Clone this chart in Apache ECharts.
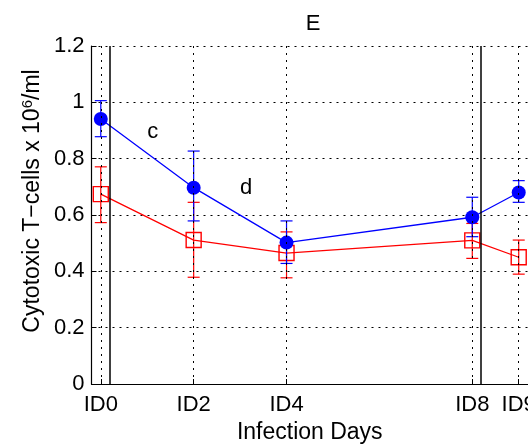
<!DOCTYPE html>
<html>
<head>
<meta charset="utf-8">
<script src="https://cdn.jsdelivr.net/npm/echarts@6/dist/echarts.min.js"></script>
<style>
  html, body { margin: 0; padding: 0; background: #fff; }
  #chart { width: 528px; height: 444px; }
</style>
</head>
<body>
<div id="chart"></div>
<script>
// infection days on the x axis
var days = [0, 2, 4, 8, 9]
var dayLabels = ['ID0', 'ID2', 'ID4', 'ID8', 'ID9']

// blue: filled circles
var blueMean = [0.941, 0.697, 0.502, 0.592, 0.68]
var blueLow = [0.878, 0.579, 0.428, 0.523, 0.645]
var blueHigh = [1.006, 0.827, 0.579, 0.663, 0.722]

// red: open squares
var redMean = [0.674, 0.511, 0.465, 0.51, 0.45]
var redLow = [0.573, 0.379, 0.377, 0.446, 0.39]
var redHigh = [0.771, 0.645, 0.54, 0.57, 0.511]

var yTicks = [0, 0.2, 0.4, 0.6, 0.8, 1, 1.2]
var solidDays = [0.2, 8.18]
var notes = [
  { text: 'c', day: 1.12, value: 0.896 },
  { text: 'd', day: 3.13, value: 0.696 }
]

var FONT = '"Liberation Sans", Arial, sans-serif'

function pairs(ys) {
  return days.map(function (d, i) { return [d, ys[i]] })
}
function bars(low, high) {
  return days.map(function (d, i) { return [d, low[i], high[i]] })
}

function errorBar(color) {
  return function (params, api) {
    var x = api.value(0)
    var lo = api.coord([x, api.value(1)])
    var hi = api.coord([x, api.value(2)])
    var w = 6
    var style = { stroke: color, lineWidth: 1.2 }
    return {
      type: 'group',
      children: [
        { type: 'line', shape: { x1: lo[0], y1: lo[1], x2: hi[0], y2: hi[1] }, style: style },
        { type: 'line', shape: { x1: lo[0] - w, y1: lo[1], x2: lo[0] + w, y2: lo[1] }, style: style },
        { type: 'line', shape: { x1: hi[0] - w, y1: hi[1], x2: hi[0] + w, y2: hi[1] }, style: style }
      ]
    }
  }
}

var chart = echarts.init(document.getElementById('chart'), null, { renderer: 'canvas' })

chart.setOption({
  backgroundColor: '#fff',
  animation: false,
  textStyle: { fontFamily: FONT },
  title: {
    text: 'E',
    left: 308,
    top: 8,
    textAlign: 'center',
    textStyle: { fontFamily: FONT, fontSize: 22, fontWeight: 'normal', color: '#000' }
  },
  grid: { left: 91.5, right: 0, top: 46, bottom: 60, containLabel: false, outerBoundsMode: 'none' },
  xAxis: {
    type: 'value',
    min: -0.2,
    max: 9.2,
    name: 'Infection Days',
    nameLocation: 'middle',
    nameGap: 36,
    nameTextStyle: { fontFamily: FONT, fontSize: 23, color: '#000' },
    axisLine: { show: true, onZero: false, lineStyle: { color: '#000', width: 1.2 } },
    axisTick: { show: true, inside: true, length: 5, customValues: days, lineStyle: { color: '#000' } },
    axisLabel: {
      customValues: days,
      margin: 10,
      fontFamily: FONT,
      fontSize: 22,
      color: '#000',
      hideOverlap: false,
      formatter: function (v) {
        var i = days.indexOf(Math.round(v))
        return i >= 0 ? dayLabels[i] : ''
      }
    },
    splitLine: { show: false }
  },
  yAxis: {
    type: 'value',
    min: 0,
    max: 1.2,
    interval: 0.2,
    axisLine: { show: true, onZero: false, lineStyle: { color: '#000', width: 1.2 } },
    axisTick: { show: true, inside: true, length: 5, lineStyle: { color: '#000' } },
    axisLabel: {
      margin: 7,
      fontFamily: FONT,
      fontSize: 22,
      color: '#000',
      formatter: function (v) {
        var t = yTicks.filter(function (k) { return Math.abs(k - v) < 1e-6 })[0]
        return t === undefined ? '' : String(t)
      }
    },
    splitLine: { show: true, lineStyle: { color: '#000', width: 1, type: [2, 5] } }
  },
  graphic: [{
    type: 'text',
    x: 33,
    y: 201,
    rotation: Math.PI / 2,
    style: {
      text: '{n|Cytotoxic T\u2212cells x 10}{s|6}{n|/ml}',
      align: 'center',
      verticalAlign: 'middle',
      fill: '#000',
      rich: {
        n: { fontFamily: FONT, fontSize: 23, lineHeight: 26, fill: '#000' },
        s: { fontFamily: FONT, fontSize: 15, lineHeight: 15, verticalAlign: 'top', fill: '#000' }
      }
    }
  }],
  series: [
    {
      name: 'grid',
      type: 'line',
      data: [],
      silent: true,
      markLine: {
        silent: true,
        symbol: 'none',
        label: { show: false },
        data: days.map(function (d) {
          return { xAxis: d, lineStyle: { color: '#000', width: 1, type: [2, 5] } }
        }).concat(solidDays.map(function (d) {
          return { xAxis: d, lineStyle: { color: '#000', width: 1.5, type: 'solid' } }
        }))
      },
      z: 1
    },
    {
      name: 'red',
      type: 'line',
      data: pairs(redMean),
      symbol: 'rect',
      symbolSize: 15,
      lineStyle: { color: '#ff0000', width: 1.3 },
      itemStyle: { color: 'transparent', borderColor: '#ff0000', borderWidth: 1.4 },
      z: 3
    },
    {
      name: 'red err',
      type: 'custom',
      data: bars(redLow, redHigh),
      encode: { x: 0, y: [1, 2] },
      renderItem: errorBar('#ff0000'),
      z: 3
    },
    {
      name: 'blue',
      type: 'line',
      data: pairs(blueMean),
      symbol: 'circle',
      symbolSize: 14,
      lineStyle: { color: '#0000ff', width: 1.3 },
      itemStyle: { color: '#0000ff', borderWidth: 0 },
      z: 4
    },
    {
      name: 'blue err',
      type: 'custom',
      data: bars(blueLow, blueHigh),
      encode: { x: 0, y: [1, 2] },
      renderItem: errorBar('#0000ff'),
      z: 4
    },
    {
      name: 'notes',
      type: 'scatter',
      silent: true,
      symbol: 'circle',
      symbolSize: 1,
      itemStyle: { color: 'transparent', opacity: 1 },
      data: notes.map(function (n) { return { name: n.text, value: [n.day, n.value] } }),
      label: {
        show: true,
        position: 'inside',
        formatter: '{b}',
        fontFamily: FONT,
        fontSize: 22,
        color: '#000',
        textBorderWidth: 0
      },
      z: 5
    }
  ]
})
</script>
</body>
</html>
